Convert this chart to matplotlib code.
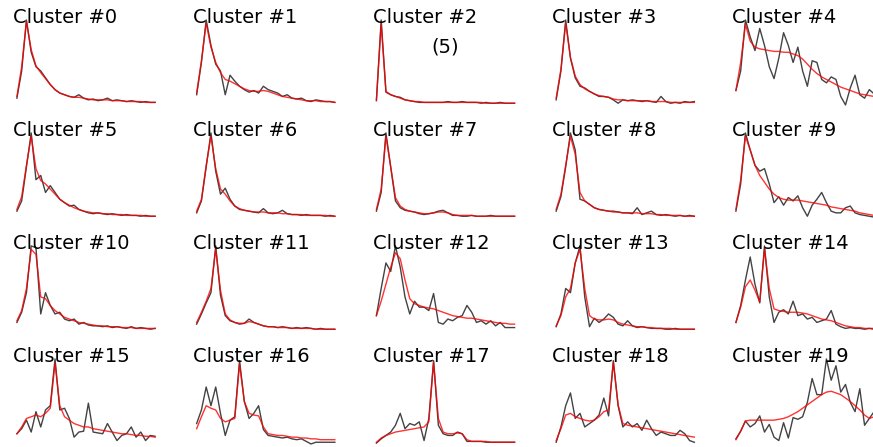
import matplotlib
matplotlib.use("Agg")
from matplotlib import pyplot as plt

# per-cluster profiles (black = measured, red = fitted)
c0_raw = [8, 40, 100, 62, 45, 40, 32, 24, 18, 14, 12, 10, 9, 12, 8, 6, 7, 5, 6, 8, 5, 6, 5, 4, 5, 4, 3, 4, 3, 3]
c0_fit = [10, 45, 98, 65, 46, 38, 31, 24, 18, 14, 12, 10, 9, 9, 8, 7, 6, 6, 6, 6, 5, 5, 5, 4, 4, 4, 4, 3, 3, 3]
c1_raw = [12, 50, 100, 70, 48, 40, 12, 35, 28, 22, 18, 15, 17, 14, 22, 18, 16, 14, 10, 12, 8, 7, 8, 5, 4, 6, 5, 4, 4, 3]
c1_fit = [14, 52, 96, 68, 50, 38, 30, 28, 25, 22, 19, 17, 16, 16, 17, 16, 14, 12, 10, 9, 8, 7, 6, 5, 5, 5, 4, 4, 4, 3]
c2_raw = [5, 100, 15, 12, 10, 9, 6, 5, 4, 3, 3, 3, 3, 3, 3, 4, 3, 3, 4, 3, 3, 3, 2, 3, 2, 2, 3, 2, 2, 2]
c2_fit = [6, 95, 16, 12, 10, 8, 6, 5, 4, 4, 3, 3, 3, 3, 3, 3, 3, 3, 3, 3, 3, 3, 3, 2, 2, 2, 2, 2, 2, 2]
c3_raw = [6, 40, 100, 55, 32, 22, 20, 16, 13, 10, 10, 9, 6, 2, 6, 5, 6, 5, 4, 5, 4, 3, 10, 4, 2, 3, 2, 4, 3, 4]
c3_fit = [8, 42, 96, 56, 34, 24, 19, 16, 13, 11, 10, 9, 7, 6, 6, 5, 5, 5, 5, 5, 4, 4, 4, 4, 3, 3, 3, 3, 3, 3]
c4_raw = [17, 40, 100, 80, 64, 90, 70, 45, 31, 55, 85, 70, 50, 68, 40, 22, 52, 50, 30, 26, 33, 30, 10, 0, 20, 35, 12, 8, 18, 13]
c4_fit = [17, 50, 95, 75, 68, 66, 65, 64, 63, 63, 62, 62, 60, 58, 54, 48, 42, 37, 33, 30, 27, 24, 21, 19, 17, 15, 13, 12, 11, 10]

c5_raw = [8, 20, 60, 100, 45, 50, 30, 38, 30, 22, 18, 14, 15, 10, 8, 6, 5, 6, 5, 4, 5, 4, 3, 4, 3, 3, 2, 3, 2, 2]
c5_fit = [10, 25, 62, 96, 58, 44, 40, 34, 28, 22, 18, 15, 12, 10, 8, 7, 6, 6, 5, 5, 4, 4, 4, 3, 3, 3, 3, 2, 2, 2]
c6_raw = [6, 20, 60, 100, 55, 28, 35, 22, 14, 10, 9, 8, 7, 6, 11, 6, 5, 6, 9, 5, 4, 4, 3, 4, 3, 3, 3, 2, 3, 2]
c6_fit = [8, 22, 62, 96, 58, 34, 28, 20, 14, 11, 9, 8, 7, 7, 7, 6, 6, 6, 5, 5, 4, 4, 4, 3, 3, 3, 3, 3, 2, 2]
c7_raw = [8, 30, 100, 60, 20, 12, 9, 8, 7, 5, 4, 5, 6, 8, 9, 6, 3, 3, 2, 2, 3, 2, 2, 2, 3, 2, 2, 2, 2, 2]
c7_fit = [10, 34, 96, 60, 24, 14, 10, 8, 7, 6, 5, 5, 6, 7, 7, 6, 4, 3, 3, 3, 3, 2, 2, 2, 2, 2, 2, 2, 2, 2]
c8_raw = [8, 25, 60, 100, 80, 22, 20, 16, 12, 10, 9, 8, 8, 7, 6, 6, 5, 12, 4, 6, 8, 4, 3, 4, 3, 2, 3, 2, 3, 2]
c8_fit = [10, 28, 62, 96, 75, 30, 20, 16, 12, 10, 9, 8, 7, 7, 6, 6, 6, 6, 5, 5, 5, 4, 4, 3, 3, 3, 3, 2, 2, 2]
c9_raw = [8, 40, 100, 80, 62, 55, 58, 40, 18, 25, 15, 24, 20, 26, 12, 2, 15, 22, 30, 18, 8, 6, 6, 12, 14, 6, 4, 3, 2, 1]
c9_fit = [10, 45, 96, 80, 62, 50, 42, 34, 28, 24, 22, 21, 21, 21, 20, 19, 18, 17, 16, 15, 13, 12, 11, 10, 9, 8, 6, 5, 4, 3]

c10_raw = [10, 22, 45, 100, 98, 20, 45, 30, 20, 22, 14, 12, 14, 8, 10, 7, 6, 6, 5, 6, 4, 5, 4, 3, 5, 3, 4, 3, 2, 3]
c10_fit = [12, 24, 50, 96, 90, 40, 38, 30, 24, 20, 16, 14, 12, 10, 9, 8, 7, 6, 6, 5, 5, 5, 4, 4, 4, 3, 3, 3, 3, 3]
c11_raw = [8, 20, 33, 45, 100, 42, 18, 12, 10, 8, 9, 14, 10, 8, 6, 5, 5, 4, 5, 4, 3, 4, 3, 4, 3, 2, 3, 2, 2, 2]
c11_fit = [10, 22, 35, 50, 96, 48, 20, 13, 10, 9, 9, 11, 10, 8, 6, 5, 5, 4, 4, 4, 3, 3, 3, 3, 3, 2, 2, 2, 2, 2]
c12_raw = [18, 50, 80, 70, 100, 75, 40, 20, 35, 28, 28, 24, 44, 10, 8, 14, 12, 16, 18, 30, 22, 10, 12, 8, 12, 6, 10, 4, 4, 4]
c12_fit = [18, 35, 55, 75, 92, 85, 60, 38, 32, 30, 28, 27, 26, 24, 22, 20, 18, 17, 16, 15, 15, 14, 13, 12, 11, 10, 9, 9, 8, 8]
c13_raw = [5, 20, 50, 45, 80, 100, 40, 5, 15, 10, 14, 20, 16, 8, 6, 12, 6, 4, 5, 4, 3, 3, 3, 2, 2, 3, 2, 2, 2, 2]
c13_fit = [6, 18, 40, 50, 80, 96, 50, 18, 14, 13, 13, 14, 13, 10, 8, 7, 6, 5, 5, 4, 4, 3, 3, 3, 3, 2, 2, 2, 2, 2]
c14_raw = [10, 30, 60, 87, 55, 33, 100, 40, 10, 22, 25, 20, 35, 18, 20, 14, 16, 10, 12, 14, 24, 8, 5, 3, 4, 3, 3, 2, 3, 2]
c14_fit = [10, 28, 52, 60, 48, 34, 96, 50, 26, 24, 23, 22, 22, 22, 21, 20, 18, 16, 14, 13, 12, 10, 8, 6, 5, 4, 4, 3, 3, 3]

c15_raw = [12, 18, 28, 14, 38, 20, 40, 45, 100, 40, 42, 30, 8, 14, 15, 48, 14, 13, 12, 24, 14, 4, 10, 12, 20, 8, 14, 4, 10, 9]
c15_fit = [12, 20, 30, 32, 34, 32, 36, 42, 95, 45, 32, 28, 24, 22, 20, 20, 18, 17, 16, 15, 14, 13, 12, 12, 11, 10, 10, 9, 9, 8]
c16_raw = [24, 40, 67, 45, 67, 36, 10, 28, 32, 98, 50, 30, 36, 45, 17, 10, 9, 8, 7, 8, 6, 5, 6, 3, 0, 2, 2, 2, 2, 2]
c16_fit = [18, 32, 45, 42, 40, 30, 26, 28, 30, 94, 50, 36, 34, 33, 20, 12, 11, 10, 10, 9, 8, 8, 7, 7, 6, 6, 5, 5, 5, 5]
c17_raw = [1, 6, 10, 14, 22, 36, 18, 24, 22, 26, 4, 30, 98, 22, 12, 10, 10, 14, 12, 3, 3, 3, 3, 2, 2, 2, 2, 2, 2, 2]
c17_fit = [2, 7, 10, 12, 14, 15, 16, 17, 18, 19, 20, 26, 96, 30, 14, 12, 12, 13, 12, 5, 3, 3, 3, 3, 2, 2, 2, 2, 2, 2]
c18_raw = [2, 20, 45, 60, 30, 36, 20, 24, 28, 34, 54, 33, 98, 45, 20, 26, 20, 24, 16, 28, 18, 10, 14, 12, 10, 10, 16, 12, 4, 2]
c18_fit = [4, 18, 34, 36, 32, 30, 28, 27, 28, 32, 38, 40, 96, 46, 24, 22, 21, 20, 19, 18, 17, 16, 15, 14, 13, 12, 11, 10, 9, 8]
c19_raw = [6, 15, 27, 20, 24, 33, 14, 23, 8, 4, 25, 7, 31, 29, 32, 49, 77, 58, 58, 100, 75, 92, 61, 70, 49, 38, 65, 22, 30, 38]
c19_fit = [5, 15, 27, 28, 28, 28, 28, 28, 28, 29, 30, 32, 35, 38, 42, 46, 50, 54, 58, 61, 62, 60, 58, 54, 50, 45, 40, 34, 30, 32]

raw = [c0_raw, c1_raw, c2_raw, c3_raw, c4_raw, c5_raw, c6_raw, c7_raw, c8_raw, c9_raw,
       c10_raw, c11_raw, c12_raw, c13_raw, c14_raw, c15_raw, c16_raw, c17_raw, c18_raw, c19_raw]
fit = [c0_fit, c1_fit, c2_fit, c3_fit, c4_fit, c5_fit, c6_fit, c7_fit, c8_fit, c9_fit,
       c10_fit, c11_fit, c12_fit, c13_fit, c14_fit, c15_fit, c16_fit, c17_fit, c18_fit, c19_fit]
notes = {2: "(5)"}

W, H = 873, 447
fig = plt.figure(figsize=(W / 100, H / 100), dpi=100)

for k in range(20):
    r, c = divmod(k, 5)
    left = 10 + 179.75 * c
    top = 15.7 + 113 * r
    w, h = 152, 93.5
    ax = fig.add_axes([left / W, 1 - (top + h) / H, w / W, h / H])
    xs = list(range(len(raw[k])))
    ax.plot(xs, raw[k], color="#222222", lw=1.0, alpha=0.85)
    ax.plot(xs, fit[k], color="red", lw=1.0, alpha=0.8)
    ax.set_xlim(-1.45, 30.45)
    ax.set_ylim(-5, 105)
    ax.axis("off")
    ax.text(0.02, 0.985, "Cluster #%d" % k, transform=ax.transAxes,
            fontsize=14, va="center", ha="left")
    if k in notes:
        ax.text(0.5, 0.67, notes[k], transform=ax.transAxes,
                fontsize=14, va="center", ha="center")

fig.savefig("out.png", dpi=100)
